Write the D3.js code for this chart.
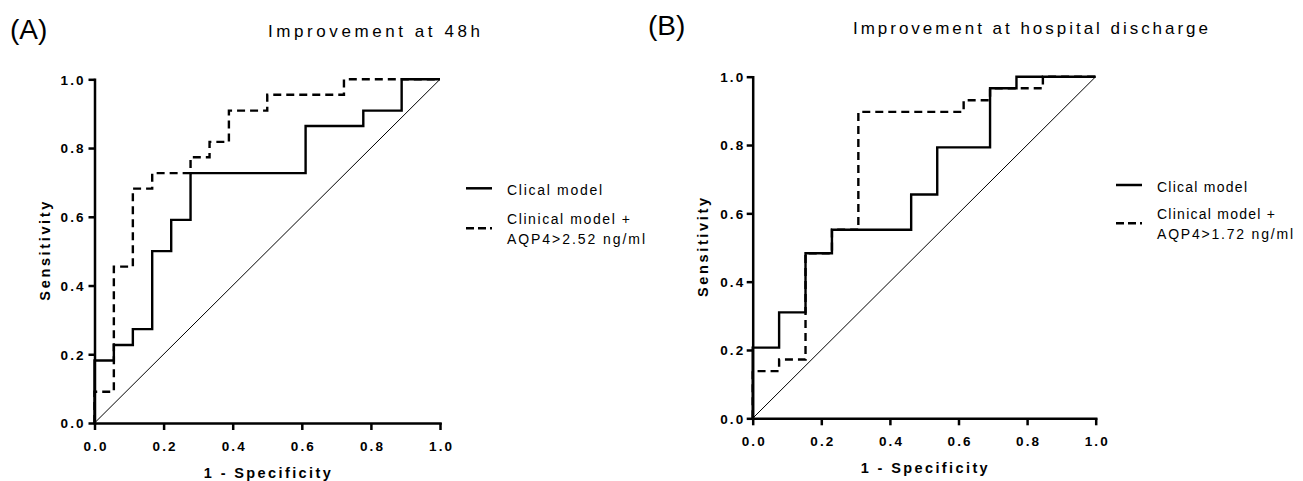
<!DOCTYPE html>
<html>
<head>
<meta charset="utf-8">
<script src="https://cdn.jsdelivr.net/npm/d3@7"></script>
<style>
  body { margin: 0; background: #fff; }
  svg { display: block; font-family: "Liberation Sans", Arial, sans-serif; }
</style>
</head>
<body>
<svg width="1303" height="481"></svg>
<script>
// **** Data
const tickValues = [0, 0.2, 0.4, 0.6, 0.8, 1.0];

// Panel A - improvement at 48h
const aClinicalFpr = [0, 0, 0.056, 0.111, 0.167, 0.222, 0.278, 0.611, 0.778, 0.889, 1.0];
const aClinicalTpr = [0, 0.182, 0.227, 0.273, 0.5, 0.591, 0.727, 0.864, 0.909, 1.0, 1.0];
const aAqp4Fpr = [0, 0, 0.056, 0.111, 0.167, 0.278, 0.333, 0.389, 0.5, 0.722, 1.0];
const aAqp4Tpr = [0, 0.091, 0.455, 0.682, 0.727, 0.773, 0.818, 0.909, 0.955, 1.0, 1.0];

// Panel B - improvement at hospital discharge
const bClinicalFpr = [0, 0, 0.077, 0.154, 0.231, 0.462, 0.538, 0.692, 0.769, 1.0];
const bClinicalTpr = [0, 0.207, 0.31, 0.483, 0.552, 0.655, 0.793, 0.966, 1.0, 1.0];
const bAqp4Fpr = [0, 0, 0.077, 0.154, 0.231, 0.308, 0.615, 0.692, 0.846, 1.0];
const bAqp4Tpr = [0, 0.138, 0.172, 0.483, 0.552, 0.897, 0.931, 0.966, 1.0, 1.0];

const svg = d3.select("svg");
const font = "\"Liberation Sans\", Arial, sans-serif";

// **** Panel drawer
function drawPanel(p) {
  const x = d3.scaleLinear().domain([0, 1]).range([p.left, p.right]);
  const y = d3.scaleLinear().domain([0, 1]).range([p.bottom, p.top]);
  const g = svg.append("g");

  // Letter and title
  g.append("text").attr("x", p.letterX).attr("y", p.letterY)
    .attr("font-size", 28).text(p.letter);
  g.append("text").attr("x", p.titleX).attr("y", p.titleY)
    .attr("font-size", 17)
    .attr("textLength", p.titleW).attr("lengthAdjust", "spacing")
    .text(p.title);

  // Axes
  const xAxis = g.append("g")
    .attr("transform", `translate(0,${p.bottom})`)
    .call(d3.axisBottom(x).tickValues(tickValues).tickFormat(d3.format(".1f"))
      .tickSize(7).tickSizeOuter(0));
  const yAxis = g.append("g")
    .attr("transform", `translate(${p.left},0)`)
    .call(d3.axisLeft(y).tickValues(tickValues).tickFormat(d3.format(".1f"))
      .tickSize(6).tickSizeOuter(0));

  [xAxis, yAxis].forEach(a => {
    a.select(".domain").attr("stroke", "#000").attr("stroke-width", 2.5)
      .attr("stroke-linecap", "square");
    a.selectAll(".tick line").attr("stroke", "#000").attr("stroke-width", 2.5);
    a.selectAll(".tick text")
      .attr("font-family", font).attr("font-size", 13.5).attr("font-weight", "bold")
      .attr("fill", "#000")
      .attr("textLength", 23).attr("lengthAdjust", "spacing");
  });
  xAxis.selectAll(".tick text").attr("y", 18).attr("dy", "0.71em");
  yAxis.selectAll(".tick text").attr("x", -p.yLabelGap).attr("dy", "0.36em");

  // Axis titles
  g.append("text")
    .attr("x", (p.left + p.right) / 2).attr("y", p.xTitleY)
    .attr("text-anchor", "middle").attr("font-size", 14.5).attr("font-weight", "bold")
    .attr("textLength", 127).attr("lengthAdjust", "spacing")
    .text("1 - Specificity");
  g.append("text")
    .attr("transform", `translate(${p.yTitleX},${(p.top + p.bottom) / 2}) rotate(-90)`)
    .attr("text-anchor", "middle").attr("font-size", 14.5).attr("font-weight", "bold")
    .attr("textLength", 99).attr("lengthAdjust", "spacing")
    .text("Sensitivity");

  // Reference diagonal
  g.append("line")
    .attr("x1", x(0)).attr("y1", y(0)).attr("x2", x(1)).attr("y2", y(1))
    .attr("stroke", "#000").attr("stroke-width", 1);

  // ROC step curves, dashed first so the solid one sits on top
  const line = d3.line().x(d => x(d[0])).y(d => y(d[1])).curve(d3.curveStepAfter);
  g.append("path")
    .datum(d3.zip(p.aqpFpr, p.aqpTpr))
    .attr("d", line).attr("fill", "none").attr("stroke", "#000")
    .attr("stroke-width", 2.4).attr("stroke-dasharray", "8,5");
  g.append("path")
    .datum(d3.zip(p.clinFpr, p.clinTpr))
    .attr("d", line).attr("fill", "none").attr("stroke", "#000")
    .attr("stroke-width", 2.4);

  // Legend
  const lg = g.append("g");
  lg.append("line").attr("x1", p.legX).attr("x2", p.legX + 26)
    .attr("y1", p.legY1).attr("y2", p.legY1)
    .attr("stroke", "#000").attr("stroke-width", 2.5);
  lg.append("line").attr("x1", p.legX).attr("x2", p.legX + 26)
    .attr("y1", p.legY2).attr("y2", p.legY2)
    .attr("stroke", "#000").attr("stroke-width", 2.5).attr("stroke-dasharray", "8,4");

  const legTexts = [
    { t: "Clical model", y: p.legY1 + 7, w: p.legW[0] },
    { t: "Clinical model +", y: p.legY2 - 4.5, w: p.legW[1] },
    { t: p.aqpLabel, y: p.legY2 + 16, w: p.legW[2] }
  ];
  lg.selectAll("text.leg").data(legTexts).join("text")
    .attr("class", "leg")
    .attr("x", p.legX + 41).attr("y", d => d.y)
    .attr("font-size", 14)
    .attr("textLength", d => d.w).attr("lengthAdjust", "spacing")
    .text(d => d.t);
}

drawPanel({
  letter: "(A)", letterX: 10, letterY: 38.5,
  title: "Improvement at 48h", titleX: 268, titleY: 36.5, titleW: 212,
  left: 94.5, right: 440, top: 79.3, bottom: 423,
  yLabelGap: 11, xTitleY: 477.5, yTitleX: 49.5,
  clinFpr: aClinicalFpr, clinTpr: aClinicalTpr,
  aqpFpr: aAqp4Fpr, aqpTpr: aAqp4Tpr,
  legX: 466, legY1: 188.3, legY2: 228.3, legW: [95, 123, 138],
  aqpLabel: "AQP4>2.52 ng/ml"
});

drawPanel({
  letter: "(B)", letterX: 648, letterY: 35,
  title: "Improvement at hospital discharge", titleX: 853, titleY: 33.5, titleW: 355,
  left: 752.7, right: 1095.7, top: 76.7, bottom: 418.3,
  yLabelGap: 9.5, xTitleY: 473, yTitleX: 707.5,
  clinFpr: bClinicalFpr, clinTpr: bClinicalTpr,
  aqpFpr: bAqp4Fpr, aqpTpr: bAqp4Tpr,
  legX: 1116, legY1: 185, legY2: 223.3, legW: [90, 118, 136],
  aqpLabel: "AQP4>1.72 ng/ml"
});
</script>
</body>
</html>
